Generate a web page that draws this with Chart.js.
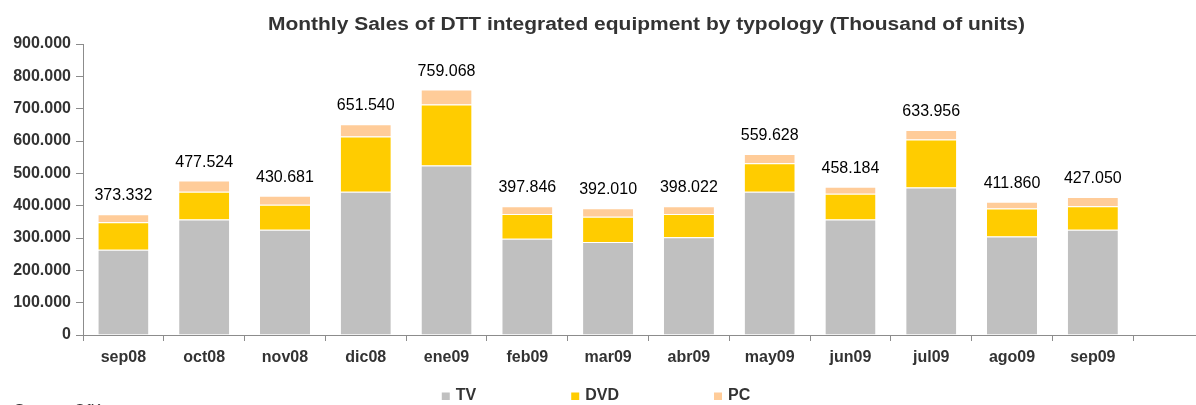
<!DOCTYPE html>
<html><head><meta charset="utf-8">
<script src="https://cdn.jsdelivr.net/npm/chart.js@4/dist/chart.umd.min.js"></script>
<style>html,body{margin:0;padding:0;background:#fff;overflow:hidden;width:1196px;height:405px}</style>
</head><body>
<canvas id="c" width="1214" height="405" style="width:1214px;height:405px;display:block"></canvas>
<script>
const categories = ['sep08','oct08','nov08','dic08','ene09','feb09','mar09','abr09','may09','jun09','jul09','ago09','sep09',''];
const tvValues  = [264000,357500,325600,443000,524000,297700,288000,302000,443000,357600,456000,305000,325600,null];
const dvdValues = [85000,85500,77400,171000,189000,76300,78000,72000,88000,79400,149000,86000,72400,null];
const pcValues  = [24332,34524,27681,37540,46068,23846,26010,24022,28628,21184,28956,20860,29050,null];
const totalLabels = ['373.332','477.524','430.681','651.540','759.068','397.846','392.010','398.022','559.628','458.184','633.956','411.860','427.050',''];
const yTicks = [0,100000,200000,300000,400000,500000,600000,700000,800000,900000];
const seriesNames = ['TV','DVD','PC'];
const seriesColors = ['#C0C0C0','#FFCC00','#FFCC99'];
const titleText = 'Monthly Sales of DTT integrated equipment by typology (Thousand of units)';
const sourceText = 'Source: GfK';

const FONT = '"Liberation Sans", Arial, sans-serif';
const TXT = '#333333';
const AXIS = '#8c8c8c';

function fmt(v){ return String(v).replace(/\B(?=(\d{3})+(?!\d))/g,'.'); }

const seriesData = [tvValues, dvdValues, pcValues];
const datasets = seriesNames.map((n,i)=>({
  label:n,
  data:seriesData[i],
  backgroundColor:seriesColors[i],
  borderColor:'#ffffff',
  borderWidth:{top:1,left:0,right:0,bottom:0},
  borderSkipped:false,
  categoryPercentage:1,
  barPercentage:0.62
}));

const decor = {
  id:'decor',
  afterDatasetsDraw(chart){
    const ctx = chart.ctx;
    const last = chart.getDatasetMeta(chart.data.datasets.length-1);
    ctx.save();
    ctx.font = '16px ' + FONT;
    ctx.fillStyle = '#000';
    ctx.textAlign = 'center';
    ctx.textBaseline = 'alphabetic';
    last.data.forEach((el,i)=>{
      if(!totalLabels[i]) return;
      ctx.fillText(totalLabels[i], el.x, el.y - 14);
    });
    ctx.restore();
  },
  afterDraw(chart){
    const ctx = chart.ctx;
    ctx.save();
    // title
    ctx.font = 'bold 18px ' + FONT;
    ctx.fillStyle = '#333333';
    ctx.textBaseline = 'alphabetic';
    ctx.textAlign = 'left';
    const w = ctx.measureText(titleText).width;
    const sx = 757 / w;
    ctx.translate(268, 29.5);
    ctx.scale(sx, 1);
    ctx.fillText(titleText, 0, 0);
    ctx.setTransform(1,0,0,1,0,0);
    // legend
    ctx.font = 'bold 16px ' + FONT;
    ctx.textBaseline = 'middle';
    const gap = 95, box = 8, tgap = 6;
    const widths = seriesNames.map(n=>box + tgap + ctx.measureText(n).width);
    const total = widths.reduce((a,b)=>a+b,0) + gap*(widths.length-1);
    let x = 596 - total/2;
    chart.data.datasets.forEach((ds,i)=>{
      ctx.fillStyle = ds.backgroundColor;
      ctx.fillRect(x, 392.5, box, 7.5);
      ctx.fillStyle = TXT;
      ctx.fillText(ds.label, x + box + tgap, 396);
      x += widths[i] + gap;
    });
    // source
    ctx.font = '16px ' + FONT;
    ctx.fillStyle = TXT;
    ctx.textBaseline = 'alphabetic';
    ctx.fillText(sourceText, 14, 416);
    ctx.restore();
  }
};

new Chart(document.getElementById('c'), {
  type:'bar',
  data:{labels:categories, datasets},
  options:{
    responsive:false,
    animation:false,
    devicePixelRatio:1,
    layout:{padding:{top:44,left:0,right:0,bottom:0}},
    plugins:{legend:{display:false}, title:{display:false}, tooltip:{enabled:false}},
    scales:{
      x:{
        stacked:true,
        grid:{display:true, drawOnChartArea:false, drawTicks:true, tickLength:6, color:AXIS, offset:true},
        border:{display:true, color:AXIS, width:1},
        ticks:{font:{family:FONT, size:16, weight:'bold'}, color:TXT, padding:7, maxRotation:0, autoSkip:false},
        afterFit(s){ s.height = 70; }
      },
      y:{
        stacked:true,
        min:yTicks[0], max:yTicks[yTicks.length-1],
        grid:{display:true, drawOnChartArea:false, drawTicks:true, tickLength:7, color:AXIS},
        border:{display:true, color:AXIS, width:1},
        ticks:{stepSize:yTicks[1]-yTicks[0], font:{family:FONT, size:16, weight:'bold'}, color:TXT, padding:5,
               callback:(v)=>fmt(v)},
        afterBuildTicks(s){ s.ticks = yTicks.map(v=>({value:v})); },
        afterFit(s){ s.width = 83; }
      }
    }
  },
  plugins:[decor]
});
</script>
</body></html>
